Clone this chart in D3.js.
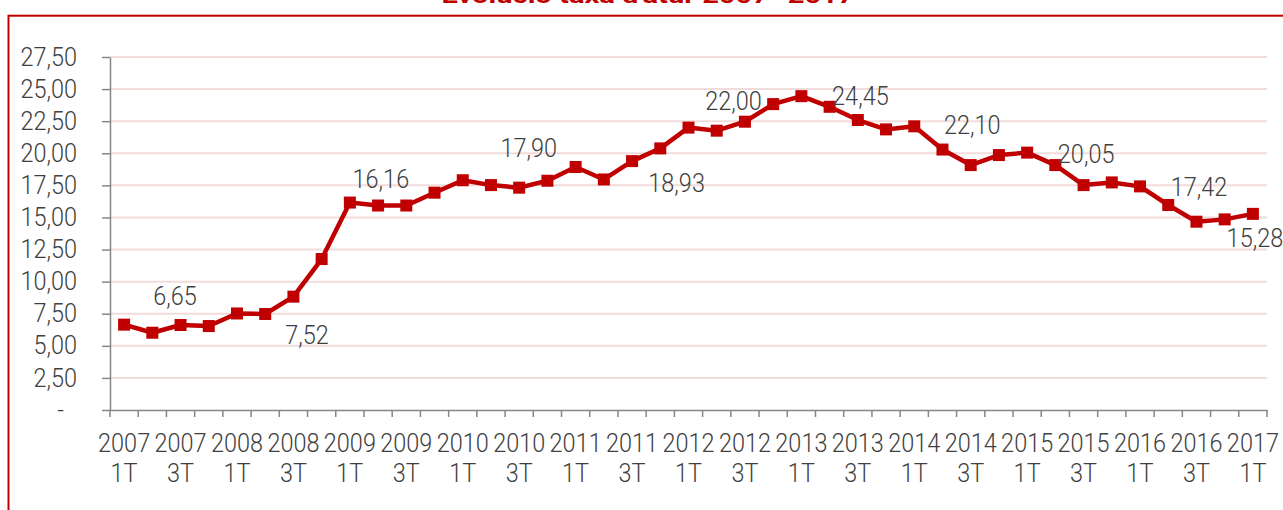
<!DOCTYPE html>
<html>
<head>
<meta charset="utf-8">
<script src="https://cdn.jsdelivr.net/npm/d3@7"></script>
<style>
  body { margin: 0; background: #fff; }
  svg { display: block; }
  text { font-family: Roboto, "Open Sans", sans-serif; }
</style>
</head>
<body>
<svg id="chart" width="1283" height="510"></svg>
<script>
var chartTitle = "Evolució taxa d'atur 2007- 2017";

var categories = [
  "2007 1T", "2007 2T", "2007 3T", "2007 4T",
  "2008 1T", "2008 2T", "2008 3T", "2008 4T",
  "2009 1T", "2009 2T", "2009 3T", "2009 4T",
  "2010 1T", "2010 2T", "2010 3T", "2010 4T",
  "2011 1T", "2011 2T", "2011 3T", "2011 4T",
  "2012 1T", "2012 2T", "2012 3T", "2012 4T",
  "2013 1T", "2013 2T", "2013 3T", "2013 4T",
  "2014 1T", "2014 2T", "2014 3T", "2014 4T",
  "2015 1T", "2015 2T", "2015 3T", "2015 4T",
  "2016 1T", "2016 2T", "2016 3T", "2016 4T",
  "2017 1T"
];

var rates = [
  6.65, 6.02, 6.62, 6.54,
  7.52, 7.48, 8.83, 11.76,
  16.16, 15.93, 15.93, 16.93,
  17.90, 17.52, 17.32, 17.86,
  18.93, 17.96, 19.39, 20.38,
  22.00, 21.76, 22.46, 23.83,
  24.45, 23.62, 22.59, 21.86,
  22.10, 20.29, 19.08, 19.86,
  20.05, 19.08, 17.52, 17.73,
  17.42, 15.97, 14.67, 14.85,
  15.28
];

var yTickValues = [0, 2.5, 5, 7.5, 10, 12.5, 15, 17.5, 20, 22.5, 25, 27.5];

// where the value labels sit relative to their point (moved by hand in the original)
var labelShift = [[51, -20], [70, 31], [31, -15], [66, -23], [101, 25], [45, -18],
                  [59, 9], [58, 8], [59, 10], [59, 10], [2, 33]];

var red = "#C00000", grid = "#F2DCDB", axisGrey = "#868686", textGrey = "#404040";
var squeeze = 0.92; // the original font is a narrow one

var svg = d3.select("#chart");

var x = d3.scaleBand().domain(categories).range([110, 1267]).padding(0);
var y = d3.scaleLinear().domain([0, 27.5]).range([410, 57]);

var comma = d3.formatLocale({decimal: ",", thousands: ".", grouping: [3], currency: ["", " €"]});
var fmt = comma.format(".2f");

// frame + title (cut at the top of the picture, as in the original)
svg.append("rect")
    .attr("x", 8.5).attr("y", 15.7)
    .attr("width", 1400).attr("height", 600)
    .attr("fill", "none").attr("stroke", red).attr("stroke-width", 2);

svg.append("text")
    .attr("x", 648).attr("y", 2.5)
    .attr("text-anchor", "middle")
    .attr("textLength", 413).attr("lengthAdjust", "spacingAndGlyphs")
    .attr("font-size", 22).attr("font-weight", "bold")
    .attr("fill", red)
    .text(chartTitle);

// gridlines
svg.append("g").selectAll("line")
    .data(yTickValues.filter(function(v) { return v > 0; }))
    .enter().append("line")
    .attr("x1", x.range()[0]).attr("x2", x.range()[1])
    .attr("y1", function(d) { return y(d); })
    .attr("y2", function(d) { return y(d); })
    .attr("stroke", grid).attr("stroke-width", 2);

// y axis
var yAxis = svg.append("g")
    .attr("transform", "translate(" + x.range()[0] + ",0)")
    .call(d3.axisLeft(y).tickValues(yTickValues).tickSize(8).tickSizeOuter(0)
        .tickFormat(function(d) { return d === 0 ? "-" : fmt(d); }));

yAxis.selectAll("text")
    .attr("x", function(d) { return (d === 0 ? -46 : -33) / squeeze; })
    .attr("transform", "scale(" + squeeze + ",1)")
    .attr("font-size", 25.5).attr("font-weight", 300)
    .attr("fill", textGrey);

// x axis: labels on every other quarter, ticks between quarters
var xAxis = svg.append("g")
    .attr("transform", "translate(0," + y(0) + ")")
    .call(d3.axisBottom(x)
        .tickValues(categories.filter(function(c, i) { return i % 2 === 0; }))
        .tickSize(0).tickSizeOuter(0));

xAxis.selectAll(".tick text")
    .attr("transform", "scale(" + squeeze + ",1)")
    .attr("font-size", 25.5).attr("font-weight", 300)
    .attr("fill", textGrey)
    .attr("y", 0).attr("dy", null)
    .each(function(d) {
        var parts = d.split(" ");
        var t = d3.select(this).text(null);
        t.append("tspan").attr("x", 0).attr("y", 41.7).text(parts[0]);
        t.append("tspan").attr("x", 0).attr("y", 72).text(parts[1]);
    });

xAxis.selectAll("line.bound")
    .data(categories.map(function(c) { return x(c); }).concat([x.range()[1]]))
    .enter().append("line")
    .attr("class", "bound")
    .attr("x1", function(d) { return d; }).attr("x2", function(d) { return d; })
    .attr("y1", 0).attr("y2", 7)
    .attr("stroke", axisGrey).attr("stroke-width", 1.5);

svg.selectAll(".domain, .tick line")
    .attr("stroke", axisGrey).attr("stroke-width", 1.5);

// series
var px = function(i) { return x(categories[i]) + x.bandwidth() / 2; };

svg.append("path")
    .datum(rates)
    .attr("d", d3.line().x(function(d, i) { return px(i); }).y(function(d) { return y(d); }))
    .attr("fill", "none").attr("stroke", red)
    .attr("stroke-width", 4.5).attr("stroke-linejoin", "round");

svg.append("g").selectAll("rect")
    .data(rates)
    .enter().append("rect")
    .attr("x", function(d, i) { return px(i) - 6; })
    .attr("y", function(d) { return y(d) - 6; })
    .attr("width", 12).attr("height", 12)
    .attr("fill", red);

// value labels on first quarters
var labelled = [];
categories.forEach(function(c, i) { if (c.slice(-2) === "1T") labelled.push(i); });

svg.append("g").selectAll("text")
    .data(labelled)
    .enter().append("text")
    .attr("transform", function(i, k) {
        return "translate(" + (px(i) + labelShift[k][0]) + "," + (y(rates[i]) + labelShift[k][1]) + ") scale(" + squeeze + ",1)";
    })
    .attr("text-anchor", "middle")
    .attr("font-size", 25.5).attr("font-weight", 300)
    .attr("fill", textGrey)
    .text(function(i) { return fmt(rates[i]); });
</script>
</body>
</html>
